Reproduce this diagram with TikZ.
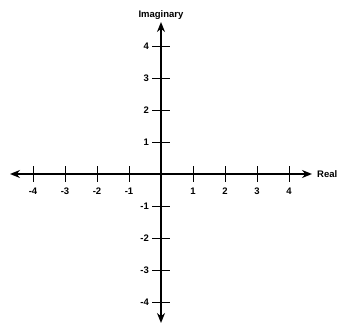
\documentclass[tikz,border=0pt]{standalone}
\usepackage{fontspec}
\setmainfont{Liberation Sans}
\usetikzlibrary{arrows.meta}
\begin{document}
\begin{tikzpicture}[x=1pt,y=-1pt,
  axis/.style={line width=1.6pt,-{Stealth[length=10pt,width=8pt]}},
  tick/.style={line width=0.8pt},
  lbl/.style={font=\fontsize{9.5}{10}\selectfont\bfseries,inner sep=0pt}]
\useasboundingbox (0,0) rectangle (338,324);
\coordinate (O) at (161,174);
\coordinate (L) at (10,174);
\coordinate (R) at (312,174);
\coordinate (T) at (161,22);
\coordinate (B) at (161,323);
\draw[axis] (O) -- (L);
\draw[axis] (O) -- (R);
\draw[axis] (O) -- (T);
\draw[axis] (O) -- (B);
\foreach \k in {-4,-3,-2,-1,1,2,3,4}{
  \draw[tick] (161+32*\k,166) -- (161+32*\k,182);
  \node[lbl] (hx\k) at (161+32*\k,191) {\k};
  \draw[tick] (152,174-32*\k) -- (170,174-32*\k);
  \node[lbl,anchor=east] (vy\k) at (149,174-32*\k) {\k};
}
\node[lbl,anchor=west] (real) at (317,174) {Real};
\node[lbl] (imag) at (161,15) {Imaginary};
\end{tikzpicture}
\end{document}
